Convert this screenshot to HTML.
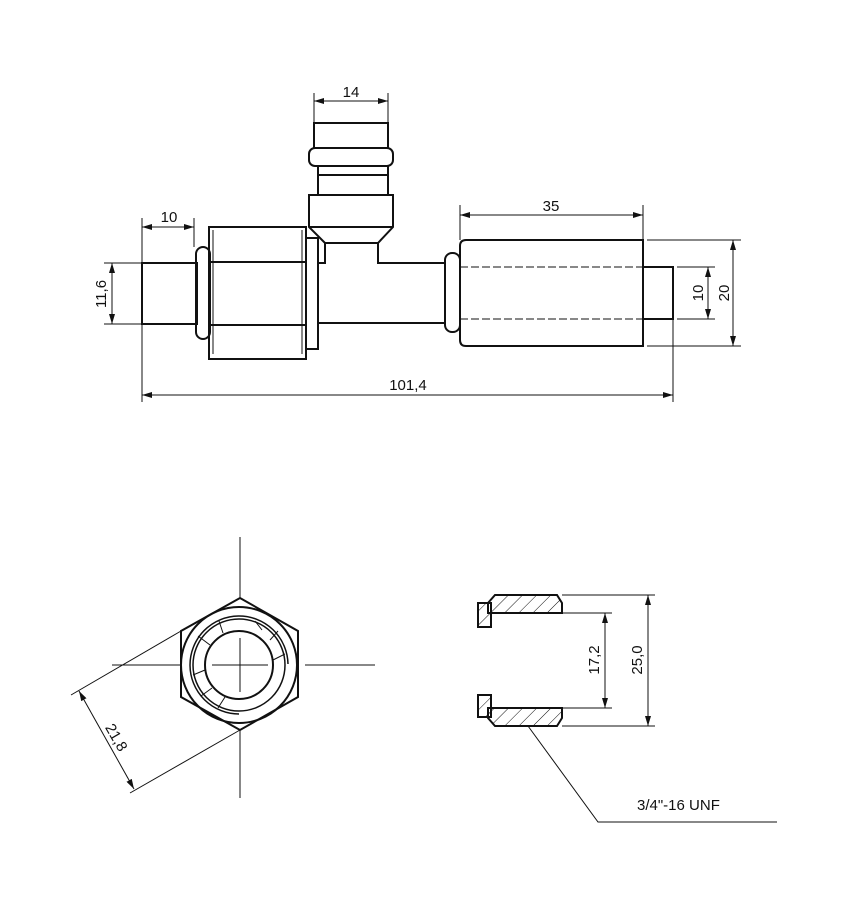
<!DOCTYPE html>
<html><head><meta charset="utf-8"><style>html,body{margin:0;padding:0;background:#fff}svg{display:block}text{font-family:"Liberation Sans",Arial,sans-serif;font-size:15px;fill:#111}</style></head><body>
<svg width="859" height="901" viewBox="0 0 859 901" xmlns="http://www.w3.org/2000/svg">
<defs>
<marker id="a" viewBox="0 0 10 6" refX="10" refY="3" markerWidth="10" markerHeight="6" orient="auto-start-reverse" markerUnits="userSpaceOnUse"><path d="M0,0L10,3L0,6z" fill="#111"/></marker>
</defs>
<g fill="none" stroke="#111" stroke-width="2">
<rect x="142" y="263" width="55" height="61"/>
<rect x="196" y="247" width="14" height="92" rx="7"/>
<rect x="209" y="227" width="97" height="132"/>
<line x1="209" y1="262" x2="306" y2="262"/><line x1="209" y1="325" x2="306" y2="325"/>
<path d="M213,230 L213,354 M302,230 L302,354" stroke-width="1"/>
<rect x="306" y="238" width="12" height="111"/>
<path d="M318,263 H325 V243 M378,243 V263 H445 M318,323 H445"/>
<rect x="318" y="166" width="70" height="29"/>
<line x1="318" y1="175" x2="388" y2="175"/>
<path d="M309,195 H393 V227 L378,243 H325 L309,227 Z"/>
<line x1="309" y1="227" x2="393" y2="227"/>
<rect x="309" y="148" width="84" height="18" rx="6"/>
<rect x="314" y="123" width="74" height="25"/>
<rect x="445" y="253" width="15" height="79" rx="7"/>
<path d="M466,240 H643 V346 H466 Q460,346 460,340 V246 Q460,240 466,240Z"/>
<rect x="643" y="267" width="30" height="52"/>
</g>
<g stroke="#111" stroke-width="1" fill="none">
<path d="M460,267 H643 M460,319 H643" stroke-dasharray="8,3"/>
<path d="M213,262 H302 M213,325 H302" stroke-dasharray="3,2"/>
<line x1="314" y1="93" x2="314" y2="123"/><line x1="388" y1="93" x2="388" y2="123"/>
<line x1="314" y1="101" x2="388" y2="101" marker-start="url(#a)" marker-end="url(#a)"/>
<line x1="142" y1="218" x2="142" y2="263"/><line x1="194" y1="218" x2="194" y2="247"/>
<line x1="142" y1="227" x2="194" y2="227" marker-start="url(#a)" marker-end="url(#a)"/>
<line x1="104" y1="263" x2="142" y2="263"/><line x1="104" y1="324" x2="142" y2="324"/>
<line x1="112" y1="263" x2="112" y2="324" marker-start="url(#a)" marker-end="url(#a)"/>
<line x1="142" y1="324" x2="142" y2="402"/><line x1="673" y1="319" x2="673" y2="402"/>
<line x1="142" y1="395" x2="673" y2="395" marker-start="url(#a)" marker-end="url(#a)"/>
<line x1="460" y1="205" x2="460" y2="240"/><line x1="643" y1="205" x2="643" y2="240"/>
<line x1="460" y1="215" x2="643" y2="215" marker-start="url(#a)" marker-end="url(#a)"/>
<line x1="647" y1="240" x2="741" y2="240"/><line x1="647" y1="346" x2="741" y2="346"/>
<line x1="733" y1="240" x2="733" y2="346" marker-start="url(#a)" marker-end="url(#a)"/>
<line x1="677" y1="267" x2="715" y2="267"/><line x1="677" y1="319" x2="715" y2="319"/>
<line x1="708" y1="267" x2="708" y2="319" marker-start="url(#a)" marker-end="url(#a)"/>
</g>
<text x="351" y="97" text-anchor="middle">14</text>
<text x="169" y="222" text-anchor="middle">10</text>
<text x="551" y="211" text-anchor="middle">35</text>
<text x="408" y="390" text-anchor="middle">101,4</text>
<text transform="translate(106,294) rotate(-90)" text-anchor="middle">11,6</text>
<text transform="translate(703,293) rotate(-90)" text-anchor="middle">10</text>
<text transform="translate(729,293) rotate(-90)" text-anchor="middle">20</text>
<g stroke="#111" fill="none">
<polygon points="240,598 298,631 298,697 240,730 181,697 181,631" stroke-width="2"/>
<circle cx="239" cy="665" r="58" stroke-width="2"/>
<circle cx="239" cy="665" r="46" stroke-width="1.5"/>
<circle cx="239" cy="665" r="34" stroke-width="2"/>
<path d="M288,664 A49,49 0 1 0 239,714" stroke-width="1.5"/>
<g stroke-width="1"><line x1="262" y1="630" x2="255" y2="621"/><line x1="270" y1="640" x2="278" y2="631"/><line x1="273" y1="660" x2="285" y2="654"/><line x1="205" y1="670" x2="193" y2="675"/><line x1="212" y1="688" x2="201" y2="696"/><line x1="225" y1="697" x2="218" y2="708"/><line x1="210" y1="645" x2="198" y2="636"/><line x1="223" y1="633" x2="219" y2="621"/></g>
<g stroke-width="1"><line x1="112" y1="665" x2="181" y2="665"/><line x1="305" y1="665" x2="375" y2="665"/><line x1="212" y1="665" x2="268" y2="665"/>
<line x1="240" y1="537" x2="240" y2="598"/><line x1="240" y1="730" x2="240" y2="798"/><line x1="240" y1="638" x2="240" y2="692"/>
<line x1="181" y1="631" x2="71" y2="695"/><line x1="240" y1="730" x2="130" y2="793"/>
<line x1="79" y1="691" x2="134" y2="789" marker-start="url(#a)" marker-end="url(#a)"/></g>
</g>
<text transform="translate(112,740) rotate(60)" text-anchor="middle">21,8</text>
<defs><pattern id="h" patternUnits="userSpaceOnUse" width="10" height="10" patternTransform="rotate(45)"><line x1="0" y1="0" x2="0" y2="10" stroke="#111" stroke-width="1"/></pattern></defs>
<g stroke="#111" stroke-width="2" fill="url(#h)">
<path d="M495,595 H557 L562,603 V613 H488 V603 Z"/>
<rect x="478" y="603" width="13" height="24"/>
<path d="M488,708 H562 V718 L557,726 H495 L488,718 Z"/>
<rect x="478" y="695" width="13" height="22"/>
</g>
<g stroke="#111" stroke-width="1" fill="none">
<line x1="562" y1="595" x2="655" y2="595"/><line x1="562" y1="613" x2="612" y2="613"/>
<line x1="562" y1="708" x2="612" y2="708"/><line x1="562" y1="726" x2="655" y2="726"/>
<line x1="605" y1="613" x2="605" y2="708" marker-start="url(#a)" marker-end="url(#a)"/>
<line x1="648" y1="595" x2="648" y2="726" marker-start="url(#a)" marker-end="url(#a)"/>
<path d="M528,726 L598,822 H777"/>
</g>
<text transform="translate(599,660) rotate(-90)" text-anchor="middle">17,2</text>
<text transform="translate(642,660) rotate(-90)" text-anchor="middle">25,0</text>
<text x="637" y="810">3/4"-16 UNF</text>
</svg>
</body></html>
